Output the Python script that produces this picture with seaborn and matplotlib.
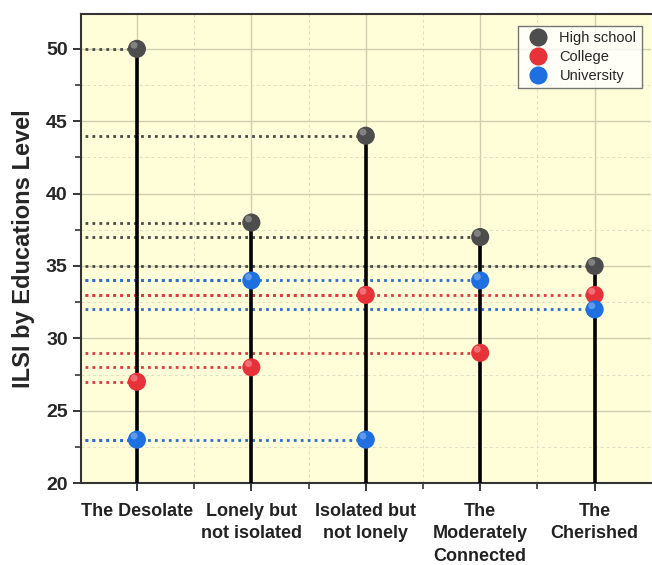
import pandas as pd
import numpy as np
import matplotlib
matplotlib.use("Agg")
import matplotlib.pyplot as plt
from matplotlib.ticker import MultipleLocator
import seaborn as sns

# data
categories = ["The Desolate", "Lonely but\nnot isolated", "Isolated but\nnot lonely",
              "The\nModerately\nConnected", "The\nCherished"]
high_school = [50, 38, 44, 37, 35]
college = [27, 28, 33, 29, 33]
university = [23, 34, 23, 34, 32]

levels = ["High school", "College", "University"]
colors = {"High school": "#4d4d4d", "College": "#e8323a", "University": "#1e6fe0"}
dot_colors = {"High school": "#4a4a4a", "College": "#e3383d", "University": "#2a6fd6"}

df = pd.DataFrame({
    "Group": categories * 3,
    "Level": ["High school"] * 5 + ["College"] * 5 + ["University"] * 5,
    "ILSI": high_school + college + university,
})
df["x"] = np.tile(np.arange(len(categories)), 3)

sns.set_style("ticks")
plt.rcParams['font.family'] = ['Liberation Sans', 'DejaVu Sans']

fig = plt.figure(figsize=(6.52, 5.65), dpi=100)
ax = fig.add_axes([0.124, 0.145, 0.874, 0.83])
ax.set_facecolor("#fffed8")

ax.set_xlim(-0.49, 4.49)
ax.set_ylim(20, 52.4)

# grid
ax.yaxis.set_major_locator(MultipleLocator(5))
ax.yaxis.set_minor_locator(MultipleLocator(2.5))
ax.xaxis.set_major_locator(MultipleLocator(1))
ax.xaxis.set_minor_locator(MultipleLocator(0.5))
ax.grid(which="major", color="#cfcfb0", lw=1.0, zorder=0)
ax.grid(which="minor", color="#dedec4", lw=0.7, ls=(0, (3, 3)), zorder=0)
ax.set_axisbelow(True)

# dotted guide lines from left edge to each point
for lvl in levels:
    sub = df[df["Level"] == lvl]
    ax.hlines(sub["ILSI"], -0.45, sub["x"], colors=dot_colors[lvl],
              linestyles=(0, (1, 1.5)), lw=2.0, zorder=2)

# black stems up to the highest value
tops = df.groupby("x")["ILSI"].max()
ax.vlines(tops.index, 20, tops.values, color="black", lw=2.6, zorder=3)

sns.scatterplot(data=df, x="x", y="ILSI", hue="Level", hue_order=levels,
                palette=colors, s=170, edgecolor="none", zorder=4, ax=ax,
                legend=True)
# small highlight for sphere look
ax.scatter(df["x"] - 0.025, df["ILSI"] + 0.25, s=25, color="white", alpha=0.3,
           edgecolor="none", zorder=5)

ax.set_xticks(range(len(categories)))
ax.set_xticklabels(categories, fontsize=13, fontweight="bold", color="#222222",
                   linespacing=1.45)
ax.tick_params(axis="y", labelsize=14, width=1.3, length=6)
for t in ax.get_yticklabels():
    t.set_fontweight("bold")
ax.tick_params(axis="x", width=1.3, length=6, pad=8)
ax.tick_params(which="minor", width=1.1, length=4)
ax.set_xlabel("")
ax.set_ylabel("ILSI by Educations Level", fontsize=17, fontweight="bold", labelpad=8)

for side in ["left", "bottom", "top"]:
    ax.spines[side].set_linewidth(1.5)
    ax.spines[side].set_color("#333333")
ax.spines["right"].set_visible(False)

leg = ax.legend(loc="upper right", bbox_to_anchor=(0.984, 0.975), fontsize=10.5,
                frameon=True, fancybox=False, edgecolor="#555555", borderaxespad=0.0,
                handletextpad=0.5, labelspacing=0.35, borderpad=0.35, markerscale=1.0)
leg.get_frame().set_linewidth(1.0)

fig.savefig("out.png", dpi=100)
